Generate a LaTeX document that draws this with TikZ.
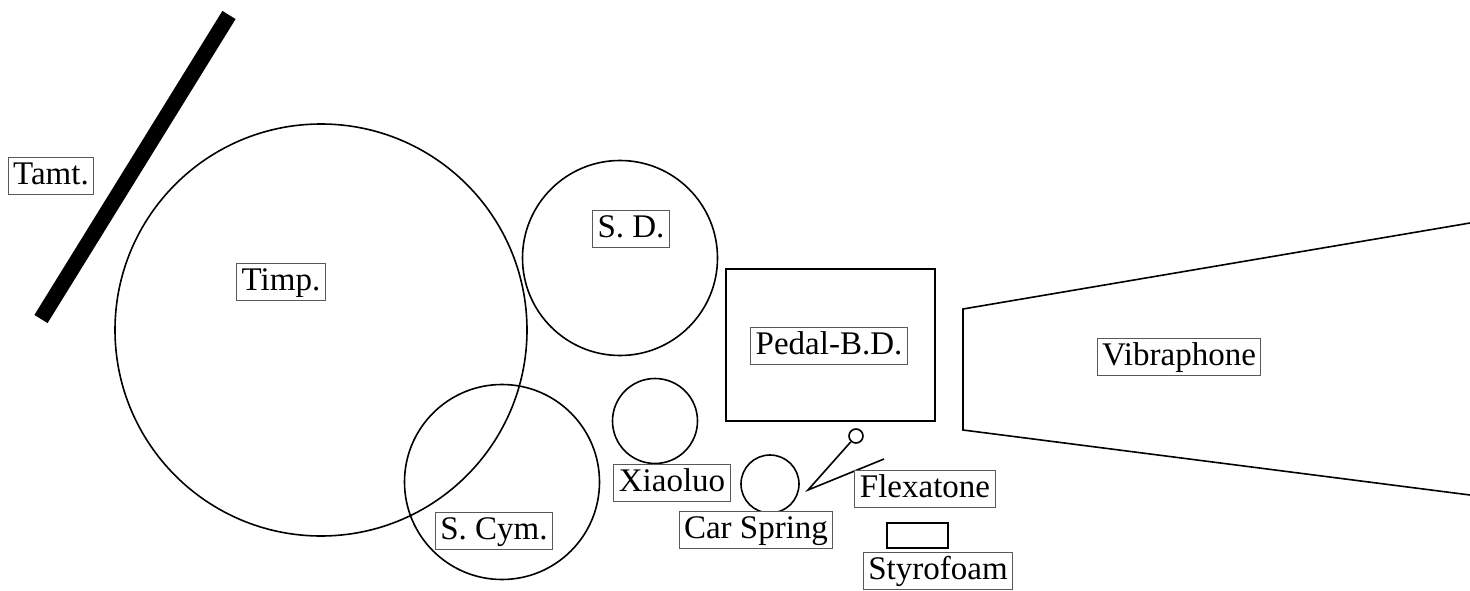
\documentclass[tikz,border=0pt]{standalone}
\usepackage{fontspec}
\setmainfont{Liberation Serif}
\begin{document}
\begin{tikzpicture}[x=1pt,y=-1pt,
  lbl/.style={draw=black!65, line width=1pt, fill=white, inner xsep=5pt, inner ysep=3.5pt,
    font=\fontsize{33}{38}\selectfont, text height=23pt, text depth=7pt},
  drum/.style={circle, draw, line width=1.6pt, inner sep=0pt},
  obj/.style={draw, line width=1.6pt}]
\useasboundingbox (0,0) rectangle (1470,591);
% Tam-tam
\coordinate (tamtA) at (229,15);
\coordinate (tamtB) at (41,319);
\draw[line width=15.5pt] (tamtA) -- (tamtB);
% drums
\node[drum, minimum size=412pt] (timp) at (321,330) {};
\node[drum, minimum size=195pt] (sd) at (620,258) {};
\node[drum, minimum size=195pt] (scym) at (502,482) {};
\node[drum, minimum size=85pt] (xiao) at (655,421) {};
\node[drum, minimum size=58pt] (car) at (770,484) {};
% pedal bass drum
\node[draw, line width=2.6pt, minimum width=209pt, minimum height=152pt, inner sep=0pt] (pbd) at (830.5,345) {};
% vibraphone
\coordinate (v1) at (963,309);
\coordinate (v2) at (963,430);
\coordinate (v3) at (1470,495);
\coordinate (v4) at (1470,223);
\draw[obj] (v4) -- (v1) -- (v2) -- (v3);
% flexatone
\node[drum, minimum size=14pt] (flexhead) at (856,436) {};
\coordinate (flexv) at (808,490);
\coordinate (flexend) at (884,459);
\draw[obj] (flexhead) -- (flexv) -- (flexend);
% styrofoam
\node[draw, line width=1.6pt, minimum width=61pt, minimum height=25pt, inner sep=0pt] (styro) at (917.5,535.5) {};
% labels
\node[lbl] (ltamt) at (51,176) {Tamt.};
\node[lbl] (ltimp) at (281,282) {Timp.};
\node[lbl] (lsd) at (631,229) {S. D.};
\node[lbl] (lscym) at (494,531) {S. Cym.};
\node[lbl] (lxiao) at (672,483) {Xiaoluo};
\node[lbl] (lcar) at (756,530) {Car Spring};
\node[lbl] (lflex) at (925,489) {Flexatone};
\node[lbl] (lstyro) at (938,571) {Styrofoam};
\node[lbl] (lpbd) at (829,346) {Pedal-B.D.};
\node[lbl] (lvib) at (1179,357) {Vibraphone};
\end{tikzpicture}
\end{document}
